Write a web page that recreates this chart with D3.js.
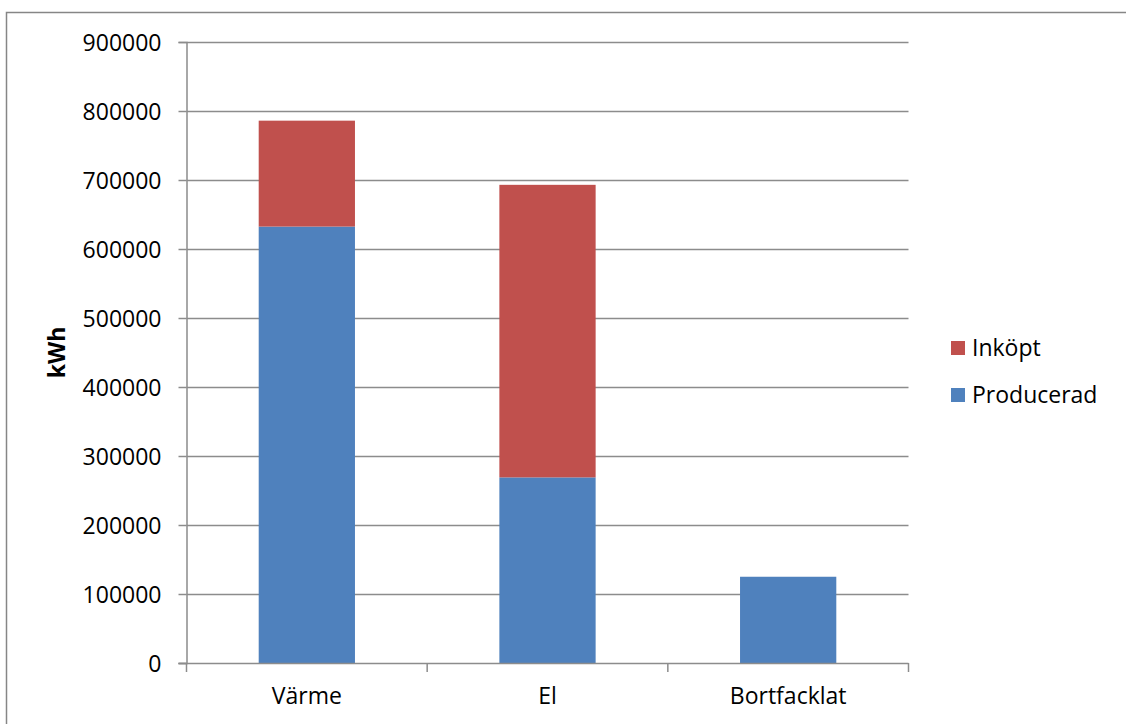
<!DOCTYPE html>
<html><head><meta charset="utf-8">
<script src="https://cdn.jsdelivr.net/npm/d3@7"></script>
<style>
html,body{margin:0;padding:0;background:#fff;overflow:hidden;}
text{font-family:"Open Sans",sans-serif;fill:#000;}
</style></head>
<body><svg id="chart" width="1126" height="724"></svg>
<script>
const categories = ["Värme", "El", "Bortfacklat"];
const producerad = [632500, 269000, 125000];
const inkopt = [153500, 424000, 0];
const seriesNames = ["Producerad", "Inköpt"];
const legendOrder = ["Inköpt", "Producerad"];
const yTicks = [0, 100000, 200000, 300000, 400000, 500000, 600000, 700000, 800000, 900000];
const yLabel = "kWh";

(function () {
const colors = {"Producerad": "#4f81bd", "Inköpt": "#c0504d"};
const fs = 23;
const svg = d3.select("#chart");

// outer frame
svg.append("rect").attr("x", 6.5).attr("y", 12.5).attr("width", 1300).attr("height", 900)
  .attr("fill", "none").attr("stroke", "#868686").attr("stroke-width", 1.5);

const pLeft = 186.5, pRight = 908.5, pTop = 42, pBottom = 663;
const x = d3.scaleBand().domain(categories).range([pLeft, pRight]).padding(0);
const y = d3.scaleLinear().domain([0, 900000]).range([pBottom, pTop]);

// gridlines
svg.append("g").selectAll("line").data(yTicks.filter(d => d > 0)).join("line")
  .attr("x1", pLeft).attr("x2", pRight)
  .attr("y1", d => Math.round(y(d)) + 0.5).attr("y2", d => Math.round(y(d)) + 0.5)
  .attr("stroke", "#8c8c8c").attr("stroke-width", 1.5);

// y axis
const yAxis = d3.axisLeft(y).tickValues(yTicks).tickSize(8).tickPadding(17).tickFormat(d3.format("d"));
const gy = svg.append("g").attr("transform", `translate(${pLeft},0)`).call(yAxis);
gy.select(".domain").attr("stroke", "#8c8c8c").attr("stroke-width", 1.5);
gy.selectAll(".tick line").attr("stroke", "#8c8c8c").attr("stroke-width", 1.5);
gy.selectAll(".tick text").attr("font-size", fs).attr("font-family", "Open Sans").attr("fill", "#000").attr("dy", "0.36em");

// stacked bars
const data = categories.map((c, i) => ({cat: c, Producerad: producerad[i], "Inköpt": inkopt[i]}));
const stack = d3.stack().keys(seriesNames)(data);
const barW = x.bandwidth() * 0.4;
svg.append("g").selectAll("g").data(stack).join("g")
  .attr("fill", d => colors[d.key])
  .selectAll("rect").data(d => d.filter(e => e[1] - e[0] > 0)).join("rect")
  .attr("x", d => x(d.data.cat) + (x.bandwidth() - barW) / 2)
  .attr("width", barW)
  .attr("y", d => y(d[1]))
  .attr("height", d => y(d[0]) - y(d[1]));

// x axis
const xAxis = d3.axisBottom(x).tickSize(0).tickPadding(25);
const gx = svg.append("g").attr("transform", `translate(0,${pBottom})`).call(xAxis);
gx.select(".domain").remove();
gx.append("line").attr("x1", pLeft - 8).attr("x2", pRight).attr("y1", 0.5).attr("y2", 0.5)
  .attr("stroke", "#8c8c8c").attr("stroke-width", 1.5);
const bounds = [pLeft].concat(categories.map(c => x(c) + x.bandwidth()));
gx.selectAll(".sep").data(bounds).join("line").attr("class", "sep")
  .attr("x1", d => d).attr("x2", d => d).attr("y1", 0).attr("y2", 9)
  .attr("stroke", "#8c8c8c").attr("stroke-width", 1.5);
gx.selectAll(".tick text").attr("font-size", fs).attr("font-family", "Open Sans").attr("fill", "#000");

// y label
svg.append("text").attr("transform", `translate(65,${(pTop + pBottom) / 2}) rotate(-90)`)
  .attr("text-anchor", "middle").attr("font-size", fs).attr("font-weight", "bold").text(yLabel);

// legend
const lg = svg.append("g");
legendOrder.forEach((k, i) => {
  const yy = 341 + i * 47;
  lg.append("rect").attr("x", 951).attr("y", yy).attr("width", 14).attr("height", 14).attr("fill", colors[k]);
  lg.append("text").attr("x", 972).attr("y", yy + 15).attr("font-size", fs).text(k);
});
})();
</script></body></html>
